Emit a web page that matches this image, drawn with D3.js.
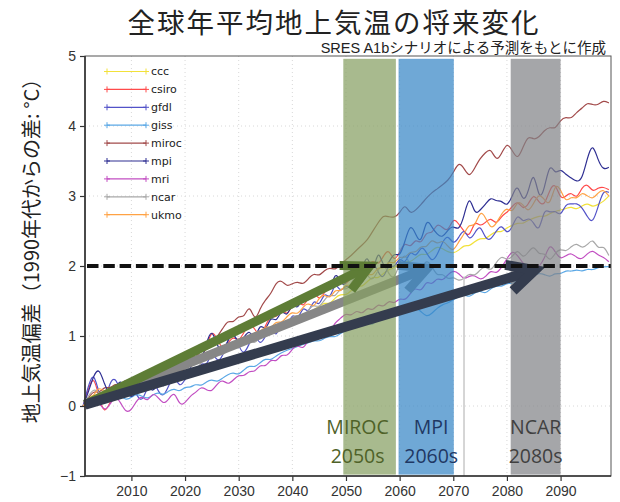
<!DOCTYPE html>
<html>
<head>
<meta charset="utf-8">
<script src="https://cdn.jsdelivr.net/npm/d3@7/dist/d3.min.js"></script>
<style>
  html, body { margin: 0; padding: 0; background: #fff; }
  svg { display: block; }
</style>
</head>
<body>
<svg id="chart" width="620" height="502"></svg>
<script>
// yearly anomaly (deg C, vs. 1990s) per model, 2001..2099
var years = d3.range(2001, 2100);

var ccc = [
    0.00, 0.10, 0.18, 0.12, 0.22, 0.28, 0.20, 0.25, 0.32, 0.30,
    0.35, 0.28, 0.38, 0.42, 0.36, 0.45, 0.50, 0.44, 0.52, 0.58,
    0.55, 0.62, 0.70, 0.64, 0.72, 0.78, 0.74, 0.82, 0.88, 0.85,
    0.92, 0.98, 0.94, 1.02, 1.08, 1.05, 1.12, 1.18, 1.15, 1.22,
    1.28, 1.25, 1.32, 1.38, 1.42, 1.48, 1.45, 1.55, 1.60, 1.58,
    1.65, 1.72, 1.70, 1.78, 1.85, 1.82, 1.90, 1.95, 1.98, 2.02,
    2.08, 2.05, 2.12, 2.18, 2.15, 2.22, 2.28, 2.25, 2.20, 2.18,
    2.22, 2.30, 2.28, 2.35, 2.40, 2.38, 2.45, 2.50, 2.48, 2.55,
    2.58, 2.62, 2.60, 2.66, 2.68, 2.72, 2.70, 2.75, 2.78, 2.80,
    2.82, 2.85, 2.80, 2.86, 2.90, 2.84, 2.88, 2.92, 3.00
];
var csiro = [
    0.00, 0.25, 0.45, 0.10, -0.12, 0.05, 0.20, 0.15, 0.30, 0.22,
    0.28, 0.35, 0.25, 0.40, 0.32, 0.45, 0.55, 0.40, 0.50, 0.62,
    0.58, 0.70, 0.65, 0.85, 1.10, 0.95, 0.80, 0.90, 1.00, 0.92,
    1.05, 1.20, 1.10, 0.98, 1.15, 1.30, 1.25, 1.40, 1.28, 1.45,
    1.52, 1.40, 1.55, 1.65, 1.50, 1.62, 1.75, 1.68, 1.80, 1.72,
    1.85, 1.95, 1.80, 1.98, 2.10, 2.00, 2.15, 2.25, 2.05, 2.20,
    2.35, 2.25, 2.40, 2.30, 2.50, 2.45, 2.62, 2.55, 2.48, 2.70,
    2.60, 2.50, 2.40, 2.66, 2.56, 2.62, 2.70, 2.58, 2.72, 2.76,
    2.85, 2.94, 2.80, 2.88, 3.04, 2.90, 2.86, 3.10, 3.20, 2.94,
    3.00, 3.06, 2.95, 3.13, 3.18, 3.05, 3.12, 3.13, 3.09
];
var gfdl = [
    0.00, 0.30, 0.50, 0.15, 0.05, 0.35, 0.42, 0.20, 0.10, 0.30,
    0.15, 0.05, 0.28, 0.40, 0.20, 0.12, 0.30, 0.45, 0.25, 0.38,
    0.50, 0.40, 0.65, 0.55, 0.80, 0.62, 0.70, 0.95, 1.10, 0.85,
    0.72, 0.90, 1.05, 0.85, 1.00, 1.15, 0.95, 1.25, 1.10, 1.35,
    1.20, 1.45, 1.30, 1.55, 1.40, 1.65, 1.50, 1.80, 1.60, 1.75,
    1.65, 1.85, 1.70, 1.95, 2.10, 1.90, 1.80, 2.05, 1.95, 2.15,
    2.00, 2.25, 2.10, 2.30, 2.20, 2.05, 2.15, 2.35, 2.45, 2.30,
    2.40, 2.55, 2.35, 2.47, 2.60, 2.38, 2.37, 2.50, 2.60, 2.45,
    2.55, 2.76, 2.61, 2.70, 2.62, 2.47, 2.84, 2.75, 2.80, 2.70,
    2.90, 2.88, 2.90, 2.84, 2.70, 2.60, 2.85, 3.09, 3.05
];
var giss = [
    0.00, 0.05, 0.10, 0.02, 0.08, 0.12, 0.10, 0.15, 0.08, 0.12,
    0.18, 0.14, 0.10, 0.16, 0.20, 0.15, 0.22, 0.25, 0.20, 0.28,
    0.26, 0.32, 0.28, 0.35, 0.38, 0.34, 0.40, 0.45, 0.48, 0.44,
    0.52, 0.58, 0.55, 0.62, 0.68, 0.65, 0.72, 0.76, 0.80, 0.82,
    0.85, 0.88, 0.90, 0.94, 0.92, 0.97, 1.00, 0.98, 1.04, 1.08,
    1.10, 1.18, 1.22, 1.19, 1.15, 1.25, 1.22, 1.30, 1.27, 1.35,
    1.38, 1.45, 1.41, 1.35, 1.27, 1.32, 1.40, 1.45, 1.47, 1.52,
    1.56, 1.60, 1.55, 1.62, 1.65, 1.60, 1.68, 1.72, 1.70, 1.76,
    1.74, 1.80, 1.84, 1.82, 1.86, 1.90, 1.88, 1.84, 1.90, 1.88,
    1.94, 1.92, 1.95, 1.92, 1.96, 1.94, 1.98, 1.99, 1.99
];
var miroc = [
    0.00, 0.12, 0.22, 0.18, 0.28, 0.25, 0.32, 0.30, 0.38, 0.35,
    0.40, 0.38, 0.45, 0.42, 0.50, 0.55, 0.52, 0.60, 0.58, 0.65,
    0.72, 0.68, 0.80, 0.90, 0.85, 1.00, 1.10, 1.23, 1.18, 1.30,
    1.25, 1.47, 1.19, 1.40, 1.52, 1.60, 1.77, 1.80, 1.70, 1.75,
    1.78, 1.73, 1.82, 1.90, 1.85, 1.94, 1.98, 1.94, 2.02, 2.09,
    2.15, 2.23, 2.30, 2.37, 2.50, 2.62, 2.73, 2.70, 2.69, 2.75,
    2.90, 2.73, 2.80, 2.88, 2.97, 3.05, 3.10, 3.16, 3.22, 3.33,
    3.49, 3.40, 3.26, 3.40, 3.54, 3.62, 3.69, 3.49, 3.60, 3.77,
    3.65, 3.51, 3.70, 3.87, 3.80, 3.84, 3.94, 3.99, 3.95, 4.09,
    4.13, 4.10, 4.20, 4.25, 4.34, 4.30, 4.30, 4.37, 4.33
];
var mpi = [
    0.00, 0.20, 0.45, 0.55, 0.30, 0.15, 0.25, 0.40, 0.20, 0.10,
    0.22, 0.42, 0.30, 0.18, 0.35, 0.25, 0.40, 0.30, 0.48, 0.35,
    0.55, 0.70, 0.62, 0.90, 1.12, 0.85, 0.75, 0.95, 1.05, 0.88,
    0.98, 1.10, 0.92, 1.20, 1.05, 1.30, 1.18, 1.40, 1.25, 1.50,
    1.35, 1.62, 1.45, 1.70, 1.55, 1.80, 1.60, 1.95, 1.75, 1.70,
    2.05, 1.80, 1.95, 2.20, 1.85, 2.28, 1.95, 2.05, 2.20, 2.12,
    2.35, 2.62, 2.45, 2.30, 2.70, 2.55, 2.45, 2.40, 2.52, 2.58,
    2.50, 2.70, 3.04, 2.72, 2.80, 2.88, 2.99, 2.92, 2.94, 2.84,
    3.00, 3.19, 2.90, 3.05, 3.40, 2.92, 3.10, 3.49, 3.30, 3.40,
    3.30, 3.26, 3.20, 3.23, 3.55, 3.77, 3.50, 3.37, 3.41
];
var mri = [
    0.00, -0.05, 0.10, 0.05, -0.08, 0.02, 0.15, 0.05, -0.10, -0.06,
    0.08, 0.15, 0.05, 0.20, 0.12, 0.02, 0.10, 0.22, 0.00, 0.04,
    0.15, 0.19, 0.28, 0.23, 0.20, 0.32, 0.38, 0.30, 0.37, 0.45,
    0.42, 0.51, 0.48, 0.60, 0.55, 0.68, 0.62, 0.75, 0.70, 0.82,
    0.88, 0.80, 0.95, 1.02, 0.98, 1.10, 1.05, 1.20, 1.25, 1.33,
    1.28, 1.38, 1.30, 1.42, 1.35, 1.47, 1.40, 1.52, 1.45, 1.55,
    1.50, 1.61, 1.70, 1.62, 1.80, 1.72, 1.84, 1.78, 1.88, 1.94,
    1.90, 1.80, 1.86, 1.87, 1.80, 1.84, 1.95, 1.88, 1.98, 2.10,
    2.23, 2.15, 2.04, 1.95, 1.90, 1.99, 2.10, 2.33, 2.20, 2.09,
    2.15, 2.19, 2.12, 2.09, 2.18, 2.23, 2.15, 2.13, 2.06
];
var ncar = [
    0.00, 0.15, 0.25, 0.20, 0.10, 0.22, 0.30, 0.25, 0.35, 0.28,
    0.32, 0.40, 0.35, 0.30, 0.42, 0.38, 0.48, 0.45, 0.40, 0.52,
    0.55, 0.50, 0.62, 0.70, 0.65, 0.75, 0.72, 0.80, 0.85, 0.82,
    0.90, 0.95, 0.88, 1.00, 1.05, 1.12, 1.08, 1.20, 1.15, 1.28,
    1.30, 1.25, 1.38, 1.45, 1.40, 1.52, 1.60, 1.55, 1.70, 1.65,
    1.75, 1.90, 2.10, 1.85, 1.78, 1.95, 2.05, 1.88, 1.80, 2.05,
    2.20, 2.00, 1.85, 1.95, 2.10, 2.00, 1.85, 1.90, 1.80, 1.85,
    1.78, 1.82, 1.90, 1.85, 1.95, 2.00, 1.92, 2.05, 2.15, 2.08,
    2.13, 2.25, 2.10, 2.20, 2.30, 2.15, 2.20, 2.05, 2.19, 2.25,
    2.20, 2.28, 2.33, 2.25, 2.30, 2.40, 2.23, 2.30, 2.15
];
var ukmo = [
    0.00, 0.08, 0.15, 0.28, 0.20, 0.12, 0.25, 0.30, 0.22, 0.35,
    0.30, 0.25, 0.38, 0.32, 0.45, 0.40, 0.50, 0.78, 0.45, 0.55,
    0.60, 0.58, 0.72, 0.68, 0.80, 0.75, 0.85, 0.90, 0.82, 0.95,
    1.00, 0.92, 1.08, 1.05, 1.15, 1.10, 1.22, 1.18, 1.28, 1.35,
    1.30, 1.42, 1.48, 1.40, 1.55, 1.60, 1.52, 1.68, 1.62, 1.75,
    1.70, 1.82, 1.78, 1.90, 1.85, 2.00, 1.95, 2.08, 2.02, 2.15,
    2.10, 2.22, 2.18, 2.30, 2.25, 2.40, 2.30, 2.38, 2.28, 2.20,
    2.35, 2.45, 2.61, 2.55, 2.80, 2.70, 2.52, 2.60, 2.75, 2.84,
    2.75, 2.94, 2.88, 2.76, 2.90, 3.04, 2.95, 2.85, 3.19, 3.10,
    2.90, 3.00, 2.95, 3.06, 3.00, 2.95, 3.05, 3.10, 3.00
];

var modelNames = ["ccc", "csiro", "gfdl", "giss", "miroc", "mpi", "mri", "ncar", "ukmo"];
var modelValues = [ccc, csiro, gfdl, giss, miroc, mpi, mri, ncar, ukmo];

// decade in which each highlighted model reaches +2 deg C
var bandModels = ["MIROC", "MPI", "NCAR"];
var bandLabels = ["2050s", "2060s", "2080s"];
var bandStartYears = [2049.5, 2059.8, 2080.7];
var bandEndYears = [2059.3, 2070.1, 2090.0];

// arrows from the start of the run to the +2 deg C crossing
var arrowStartYear = 2001.35;
var arrowStartValue = 0.02;
var arrowEndYears = [2054.4, 2065.2, 2085.2];
var arrowEndValues = [2.0, 1.97, 1.94];

var thresholdValue = 2;
var markerYear = 2072;
var markerTop = 1.85;

var xTicks = [2010, 2020, 2030, 2040, 2050, 2060, 2070, 2080, 2090];
var yTicks = [-1, 0, 1, 2, 3, 4, 5];

var titleText = "全球年平均地上気温の将来変化";
var subtitleText = "SRES A1bシナリオによる予測をもとに作成";
var yLabelText = "地上気温偏差（1990年代からの差: °C）";

var colors = {
    ccc: "#f2e13a", csiro: "#ff4a4a", gfdl: "#5252c8", giss: "#5ba8e6",
    miroc: "#a24a4a", mpi: "#2e2e92", mri: "#c24ec2", ncar: "#a8a8a8", ukmo: "#ffa244"
};
var bandFill = ["#869f63", "#3786c6", "#828388"];
var bandText = ["#4f6228", "#1f3864", "#404040"];
var arrowColor = ["#5e7d36", "#878787", "#343c4e"];

var margin = {top: 56, right: 9, bottom: 26, left: 85},
    width = 620 - margin.left - margin.right,
    height = 502 - margin.top - margin.bottom;

var svg = d3.select("#chart");
var g = svg.append("g")
    .attr("transform", "translate(" + margin.left + "," + margin.top + ")");

var x = d3.scaleLinear().domain([2001.35, 2099.4]).range([0, width]);
var y = d3.scaleLinear().domain([-1, 5]).range([height, 0]);

// dotted grid
g.append("g").selectAll("line").data(xTicks).join("line")
    .attr("x1", function (d) { return x(d); })
    .attr("x2", function (d) { return x(d); })
    .attr("y1", 0).attr("y2", height)
    .attr("stroke", "#d8d8d8").attr("stroke-width", 1)
    .attr("stroke-dasharray", "1,3");
g.append("g").selectAll("line").data(yTicks.filter(function (d) { return d > -1 && d < 5; })).join("line")
    .attr("x1", 0).attr("x2", width)
    .attr("y1", function (d) { return y(d); })
    .attr("y2", function (d) { return y(d); })
    .attr("stroke", "#d8d8d8").attr("stroke-width", 1)
    .attr("stroke-dasharray", "1,3");

// model lines
var line = d3.line()
    .x(function (d) { return x(d[0]); })
    .y(function (d) { return y(d[1]); })
    .curve(d3.curveBasis);

modelNames.forEach(function (name, i) {
    var pts = years.map(function (yr, j) { return [yr, modelValues[i][j]]; });
    g.append("path")
        .datum(pts)
        .attr("fill", "none")
        .attr("stroke", colors[name])
        .attr("stroke-width", 1.2)
        .attr("stroke-linejoin", "round")
        .attr("d", line);
});

function drawArrow(i, w) {
    var sx = x(arrowStartYear), sy = y(arrowStartValue),
        tx = x(arrowEndYears[i]), ty = y(arrowEndValues[i]),
        a = Math.atan2(ty - sy, tx - sx),
        len = 30, spread = 0.47,
        ag = g.append("g");
    ag.append("line")
        .attr("x1", sx).attr("y1", sy)
        .attr("x2", tx - 4 * Math.cos(a)).attr("y2", ty - 4 * Math.sin(a))
        .attr("stroke", arrowColor[i]).attr("stroke-width", w);
    ag.append("path")
        .attr("d", "M" + (tx - len * Math.cos(a - spread)) + "," + (ty - len * Math.sin(a - spread)) +
            "L" + tx + "," + ty +
            "L" + (tx - len * Math.cos(a + spread)) + "," + (ty - len * Math.sin(a + spread)))
        .attr("fill", "none")
        .attr("stroke", arrowColor[i])
        .attr("stroke-width", w)
        .attr("stroke-linejoin", "miter")
        .attr("stroke-linecap", "butt");
}

// MPI arrow sits below the bands, the others above
drawArrow(1, 9);

g.append("line")
    .attr("x1", x(markerYear)).attr("x2", x(markerYear))
    .attr("y1", y(markerTop)).attr("y2", height)
    .attr("stroke", "#c8c8c8").attr("stroke-width", 1.5);

g.append("g").selectAll("rect").data(bandModels).join("rect")
    .attr("x", function (d, i) { return x(bandStartYears[i]); })
    .attr("width", function (d, i) { return x(bandEndYears[i]) - x(bandStartYears[i]); })
    .attr("y", y(4.96))
    .attr("height", y(-0.98) - y(4.96))
    .attr("fill", function (d, i) { return bandFill[i]; })
    .attr("fill-opacity", 0.72);

drawArrow(0, 9);
drawArrow(2, 10);

// +2 deg C threshold
g.append("line")
    .attr("x1", 2).attr("x2", width)
    .attr("y1", y(thresholdValue)).attr("y2", y(thresholdValue))
    .attr("stroke", "#111").attr("stroke-width", 4)
    .attr("stroke-dasharray", "11.5,4.8");

// band captions
var labelShift = [-12, 5, 0];
var caps = g.append("g")
    .attr("font-family", "'Open Sans', 'Liberation Sans', sans-serif")
    .attr("font-size", 19.5)
    .attr("text-anchor", "middle");
bandModels.forEach(function (m, i) {
    var cx = (x(bandStartYears[i]) + x(bandEndYears[i])) / 2 + labelShift[i];
    caps.append("text").attr("x", cx).attr("y", y(-0.3)).attr("dy", "0.36em")
        .attr("fill", bandText[i]).text(m);
    caps.append("text").attr("x", cx).attr("y", y(-0.71)).attr("dy", "0.36em")
        .attr("fill", bandText[i]).text(bandLabels[i]);
});

// axes
var xAxis = d3.axisBottom(x).tickValues(xTicks).tickFormat(d3.format("d")).tickSize(5).tickPadding(5);
var yAxis = d3.axisLeft(y).tickValues(yTicks).tickFormat(d3.format("d")).tickSize(5).tickPadding(4);

var gx = g.append("g").attr("transform", "translate(0," + height + ")").call(xAxis);
var gy = g.append("g").call(yAxis);
[gx, gy].forEach(function (ax) {
    ax.select(".domain").remove();
    ax.selectAll(".tick line").attr("stroke", "#333").attr("stroke-width", 1.2);
    ax.selectAll(".tick text")
        .attr("fill", "#333")
        .attr("font-family", "'Liberation Sans', Arial, sans-serif")
        .attr("font-size", 14);
});

g.append("rect")
    .attr("x", 0).attr("y", 0).attr("width", width).attr("height", height)
    .attr("fill", "none").attr("stroke", "#555").attr("stroke-width", 1);
g.append("path")
    .attr("d", "M0,0V" + height + "H" + width)
    .attr("fill", "none").attr("stroke", "#333").attr("stroke-width", 1.6);

// legend
var legend = g.append("g").attr("transform", "translate(22,15.5)");
modelNames.forEach(function (name, i) {
    var row = legend.append("g").attr("transform", "translate(0," + (i * 17.9) + ")");
    row.append("line").attr("x1", 0).attr("x2", 39).attr("y1", 0).attr("y2", 0)
        .attr("stroke", colors[name]).attr("stroke-width", 1.2);
    [0, 39].forEach(function (px) {
        row.append("path").attr("d", "M" + (px - 3) + ",0H" + (px + 3) + "M" + px + ",-3V3")
            .attr("stroke", colors[name]).attr("stroke-width", 1);
    });
    row.append("text").attr("x", 44).attr("y", 0).attr("dy", "0.35em")
        .attr("font-family", "'DejaVu Sans', sans-serif").attr("font-size", 11)
        .attr("fill", "#222").text(name);
});

// titles
svg.append("text")
    .attr("x", 334).attr("y", 32.5)
    .attr("text-anchor", "middle")
    .attr("font-family", "'Noto Sans CJK JP', sans-serif")
    .attr("font-size", 27.5)
    .attr("letter-spacing", 2)
    .attr("fill", "#222")
    .text(titleText);
svg.append("text")
    .attr("x", 606).attr("y", 53)
    .attr("text-anchor", "end")
    .attr("font-family", "'Liberation Sans', 'Noto Sans CJK JP', sans-serif")
    .attr("font-size", 14.5)
    .attr("fill", "#222")
    .text(subtitleText);
svg.append("text")
    .attr("transform", "translate(32,246) rotate(-90)")
    .attr("dy", "0.35em")
    .attr("text-anchor", "middle")
    .attr("font-family", "'Noto Sans CJK JP', sans-serif")
    .attr("font-size", 20)
    .attr("fill", "#222")
    .text(yLabelText);
</script>
</body>
</html>
